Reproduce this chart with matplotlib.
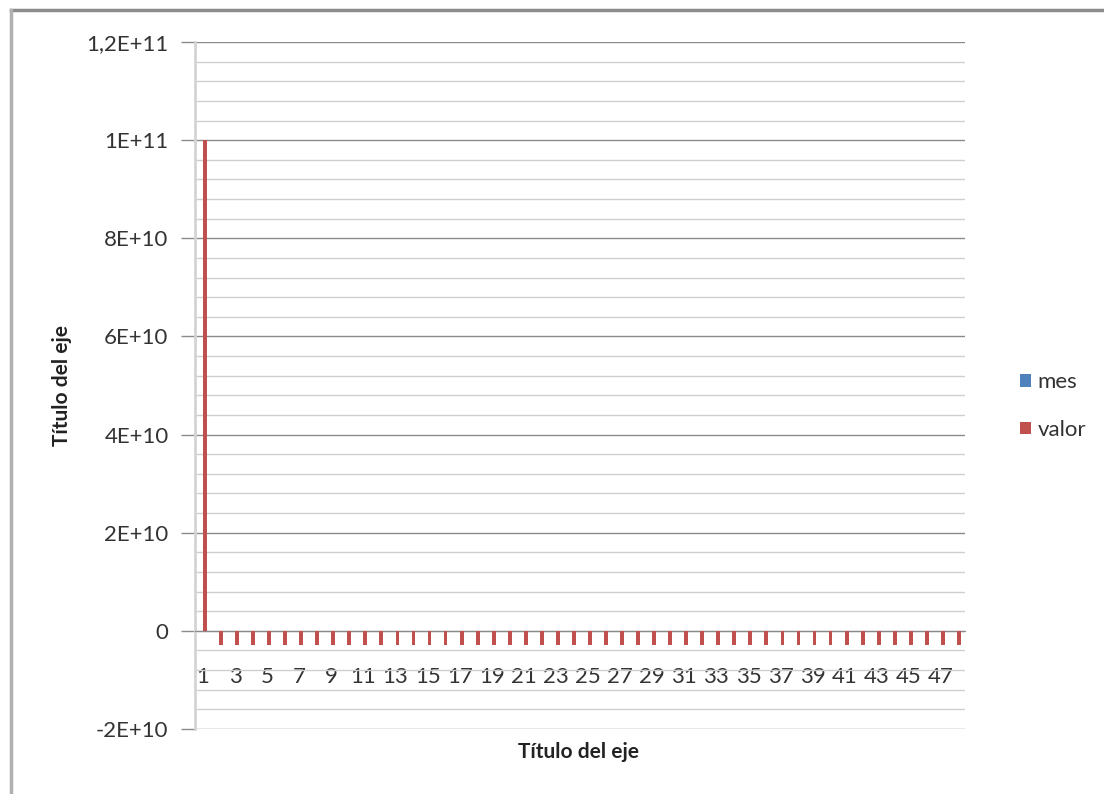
import matplotlib
matplotlib.use("Agg")
import matplotlib.pyplot as plt
from matplotlib.patches import Patch
from matplotlib.lines import Line2D
from matplotlib.ticker import MultipleLocator, FixedLocator, FuncFormatter

# Data
categories = list(range(1, 49))
mes = list(range(1, 49))
valor = [1.0e11] + [-2.9e9] * 47
series_names = ["mes", "valor"]
series_colors = ["#4F81BD", "#C0504D"]
y_tick_labels = {1.2e11: "1,2E+11", 1e11: "1E+11", 8e10: "8E+10", 6e10: "6E+10",
                 4e10: "4E+10", 2e10: "2E+10", 0: "0", -2e10: "-2E+10"}

W, H = 1104, 794
plt.rcParams["font.family"] = ["Lato", "DejaVu Sans"]
fig = plt.figure(figsize=(W / 100, H / 100), dpi=100)
ax = fig.add_axes([195 / W, 1 - 729 / H, (965 - 195) / W, (729 - 42) / H])

n_series = 2
gap = 2.2
bw = 1.0 / (n_series + gap)
xs = list(range(len(categories)))
for k, (vals, name, col) in enumerate(zip([mes, valor], series_names, series_colors)):
    off = (k - (n_series - 1) / 2) * bw
    ax.bar([x + off for x in xs], vals, width=bw, color=col, label=name, zorder=3)

ax.set_xlim(-0.5, len(categories) - 0.5)
ax.set_ylim(-2e10, 1.2e11)

# Y axis: major every 2E10, minor gridlines every 4E9
ax.yaxis.set_major_locator(MultipleLocator(2e10))
ax.yaxis.set_minor_locator(MultipleLocator(4e9))
ax.yaxis.set_major_formatter(FuncFormatter(lambda v, p: y_tick_labels.get(round(v / 1e9) * 1e9, "")))
ax.grid(which="major", axis="y", color="#8a8a8a", linewidth=1.0, zorder=1)
ax.grid(which="minor", axis="y", color="#cfcfcf", linewidth=1.0, zorder=0)
ax.tick_params(axis="y", which="major", length=10, width=1, color="#8a8a8a",
               pad=9, labelsize=16, labelcolor="#333333")
ax.tick_params(axis="y", which="minor", length=0)

# X axis labels: every other category, sitting below the zero line
ax.xaxis.set_major_locator(FixedLocator(xs[::2]))
ax.set_xticklabels([str(c) for c in categories[::2]])
ax.spines["bottom"].set_position(("data", 0))
ax.spines["bottom"].set_color("#8a8a8a")
ax.tick_params(axis="x", length=0, pad=26, labelsize=16, labelcolor="#333333")

for s in ["top", "right"]:
    ax.spines[s].set_visible(False)
ax.spines["left"].set_color("#d4d4d4")
ax.spines["left"].set_linewidth(2)

# Axis titles
fig.text(62 / W, 1 - 385 / H, "Título del eje", rotation=90, ha="center", va="center",
         fontsize=15, fontweight="bold", color="#222222")
fig.text(578 / W, 1 - 752 / H, "Título del eje", ha="center", va="center",
         fontsize=15, fontweight="bold", color="#222222")

# Legend
handles = [Patch(facecolor=c, edgecolor="none") for c in series_colors]
fig.legend(handles, series_names, loc="center left", bbox_to_anchor=(1000 / W, 1 - 406 / H),
           frameon=False, fontsize=16, handlelength=0.5, handleheight=0.5,
           handletextpad=0.3, labelspacing=1.25, labelcolor="#333333")

# Chart area border (top and left edges)
fig.add_artist(Line2D([11 / W, 1], [1 - 10 / H, 1 - 10 / H], transform=fig.transFigure,
                      color="#8c8c8c", linewidth=2.5))
fig.add_artist(Line2D([11 / W, 11 / W], [0, 1 - 10 / H], transform=fig.transFigure,
                      color="#b0b0b0", linewidth=2.5))

fig.savefig("out.png", dpi=100)
